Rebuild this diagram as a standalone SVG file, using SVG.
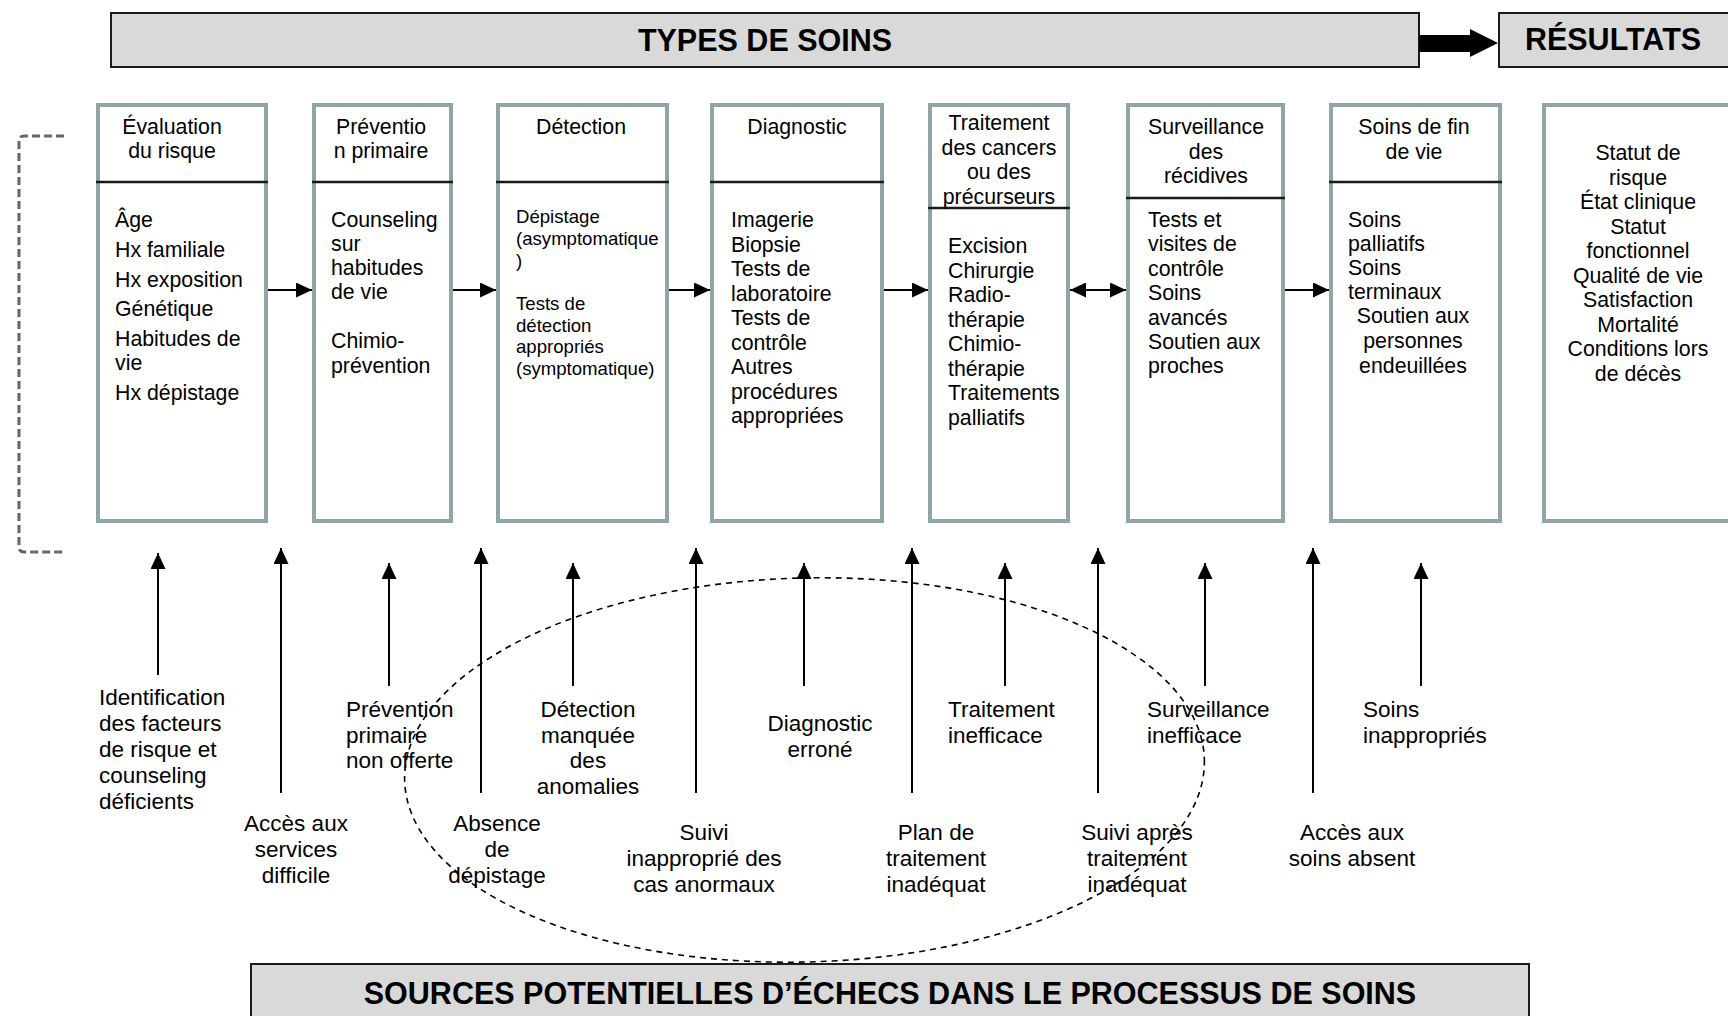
<svg xmlns="http://www.w3.org/2000/svg" width="1728" height="1016" viewBox="0 0 1728 1016">
<style>
text{font-family:"Liberation Sans",Arial,sans-serif;fill:#000}
.t{font-size:21.3px}
.ts{font-size:18.6px}
.tl{font-size:22.5px}
.m{text-anchor:middle}
.title{font-size:30.5px;font-weight:bold;text-anchor:middle}
.box{fill:#fff;stroke:#8fa5a8;stroke-width:4}
.div{stroke:#1a1a1a;stroke-width:2.5}
.banner{fill:#d9d9d9;stroke:#1a1a1a;stroke-width:2}
.con{stroke:#000;stroke-width:2;fill:none}
</style>
<defs>
<marker id="ah" markerUnits="userSpaceOnUse" markerWidth="16" markerHeight="15" refX="16" refY="7.5" orient="auto-start-reverse">
<path d="M0,0 L16,7.5 L0,15 z" fill="#000"/>
</marker>
</defs>

<g id="banner-types">
<rect class="banner" x="111" y="13" width="1308" height="54"/>
<text class="title" x="765" y="51">TYPES DE SOINS</text>
</g>
<g id="banner-resultats">
<rect class="banner" x="1499" y="13" width="260" height="54"/>
<text class="title" x="1613" y="50">RÉSULTATS</text>
</g>
<g id="banner-sources">
<rect class="banner" x="251" y="964" width="1278" height="70"/>
<text class="title" x="890" y="1004">SOURCES POTENTIELLES D’ÉCHECS DANS LE PROCESSUS DE SOINS</text>
</g>

<g id="node-evaluation">
<rect class="box" x="98" y="105" width="168" height="416"/>
<line class="div" x1="96" y1="182" x2="268" y2="182"/>
<text class="t m" x="172" y="134">Évaluation</text>
<text class="t m" x="172" y="158">du risque</text>
<text class="t" x="115" y="227">Âge</text>
<text class="t" x="115" y="257">Hx familiale</text>
<text class="t" x="115" y="287">Hx exposition</text>
<text class="t" x="115" y="316">Génétique</text>
<text class="t" x="115" y="346">Habitudes de</text>
<text class="t" x="115" y="370">vie</text>
<text class="t" x="115" y="400">Hx dépistage</text>
</g>

<g id="node-prevention">
<rect class="box" x="314" y="105" width="137" height="416"/>
<line class="div" x1="312" y1="182" x2="453" y2="182"/>
<text class="t m" x="381" y="134">Préventio</text>
<text class="t m" x="381" y="158">n primaire</text>
<text class="t" x="331" y="227">Counseling</text>
<text class="t" x="331" y="251">sur</text>
<text class="t" x="331" y="275">habitudes</text>
<text class="t" x="331" y="299">de vie</text>
<text class="t" x="331" y="348">Chimio-</text>
<text class="t" x="331" y="373">prévention</text>
</g>

<g id="node-detection">
<rect class="box" x="498" y="105" width="169" height="416"/>
<line class="div" x1="496" y1="182" x2="669" y2="182"/>
<text class="t m" x="581" y="134">Détection</text>
<text class="ts" x="516" y="223">Dépistage</text>
<text class="ts" x="516" y="245">(asymptomatique</text>
<text class="ts" x="516" y="267">)</text>
<text class="ts" x="516" y="310">Tests de</text>
<text class="ts" x="516" y="332">détection</text>
<text class="ts" x="516" y="353">appropriés</text>
<text class="ts" x="516" y="375">(symptomatique)</text>
</g>

<g id="node-diagnostic">
<rect class="box" x="712" y="105" width="170" height="416"/>
<line class="div" x1="710" y1="182" x2="884" y2="182"/>
<text class="t m" x="797" y="134">Diagnostic</text>
<text class="t" x="731" y="227">Imagerie</text>
<text class="t" x="731" y="251.5">Biopsie</text>
<text class="t" x="731" y="276">Tests de</text>
<text class="t" x="731" y="300.5">laboratoire</text>
<text class="t" x="731" y="325">Tests de</text>
<text class="t" x="731" y="349.5">contrôle</text>
<text class="t" x="731" y="374">Autres</text>
<text class="t" x="731" y="398.5">procédures</text>
<text class="t" x="731" y="423">appropriées</text>
</g>

<g id="node-traitement">
<rect class="box" x="930" y="105" width="138" height="416"/>
<line class="div" x1="928" y1="208" x2="1070" y2="208"/>
<text class="t m" x="999" y="130">Traitement</text>
<text class="t m" x="999" y="154.5">des cancers</text>
<text class="t m" x="999" y="179">ou des</text>
<text class="t m" x="999" y="203.5">précurseurs</text>
<text class="t" x="948" y="253">Excision</text>
<text class="t" x="948" y="277.5">Chirurgie</text>
<text class="t" x="948" y="302">Radio-</text>
<text class="t" x="948" y="326.5">thérapie</text>
<text class="t" x="948" y="351">Chimio-</text>
<text class="t" x="948" y="375.5">thérapie</text>
<text class="t" x="948" y="400">Traitements</text>
<text class="t" x="948" y="424.5">palliatifs</text>
</g>

<g id="node-surveillance">
<rect class="box" x="1128" y="105" width="155" height="416"/>
<line class="div" x1="1126" y1="198" x2="1285" y2="198"/>
<text class="t m" x="1206" y="134">Surveillance</text>
<text class="t m" x="1206" y="158.5">des</text>
<text class="t m" x="1206" y="183">récidives</text>
<text class="t" x="1148" y="227">Tests et</text>
<text class="t" x="1148" y="251.4">visites de</text>
<text class="t" x="1148" y="275.8">contrôle</text>
<text class="t" x="1148" y="300.2">Soins</text>
<text class="t" x="1148" y="324.6">avancés</text>
<text class="t" x="1148" y="349">Soutien aux</text>
<text class="t" x="1148" y="373.4">proches</text>
</g>

<g id="node-findevie">
<rect class="box" x="1331" y="105" width="169" height="416"/>
<line class="div" x1="1329" y1="182" x2="1502" y2="182"/>
<text class="t m" x="1414" y="134">Soins de fin</text>
<text class="t m" x="1414" y="158.5">de vie</text>
<text class="t" x="1348" y="227">Soins</text>
<text class="t" x="1348" y="251">palliatifs</text>
<text class="t" x="1348" y="275">Soins</text>
<text class="t" x="1348" y="299">terminaux</text>
<text class="t m" x="1413" y="323">Soutien aux</text>
<text class="t m" x="1413" y="348">personnes</text>
<text class="t m" x="1413" y="373">endeuillées</text>
</g>

<g id="node-resultats">
<rect class="box" x="1544" y="105" width="200" height="416"/>
<text class="t m" x="1638" y="160">Statut de</text>
<text class="t m" x="1638" y="184.5">risque</text>
<text class="t m" x="1638" y="209">État clinique</text>
<text class="t m" x="1638" y="233.5">Statut</text>
<text class="t m" x="1638" y="258">fonctionnel</text>
<text class="t m" x="1638" y="282.5">Qualité de vie</text>
<text class="t m" x="1638" y="307">Satisfaction</text>
<text class="t m" x="1638" y="331.5">Mortalité</text>
<text class="t m" x="1638" y="356">Conditions lors</text>
<text class="t m" x="1638" y="380.5">de décès</text>
</g>

<g id="failure-labels">
<text class="tl" x="99" y="705">Identification</text>
<text class="tl" x="99" y="731">des facteurs</text>
<text class="tl" x="99" y="757">de risque et</text>
<text class="tl" x="99" y="783">counseling</text>
<text class="tl" x="99" y="809">déficients</text>
<text class="tl m" x="296" y="831">Accès aux</text>
<text class="tl m" x="296" y="857">services</text>
<text class="tl m" x="296" y="883">difficile</text>
<text class="tl" x="346" y="717">Prévention</text>
<text class="tl" x="346" y="743">primaire</text>
<text class="tl" x="346" y="768">non offerte</text>
<text class="tl m" x="588" y="717">Détection</text>
<text class="tl m" x="588" y="743">manquée</text>
<text class="tl m" x="588" y="768">des</text>
<text class="tl m" x="588" y="794">anomalies</text>
<text class="tl m" x="497" y="831">Absence</text>
<text class="tl m" x="497" y="857">de</text>
<text class="tl m" x="497" y="883">dépistage</text>
<text class="tl m" x="704" y="840">Suivi</text>
<text class="tl m" x="704" y="866">inapproprié des</text>
<text class="tl m" x="704" y="892">cas anormaux</text>
<text class="tl m" x="820" y="731">Diagnostic</text>
<text class="tl m" x="820" y="757">erroné</text>
<text class="tl" x="948" y="717">Traitement</text>
<text class="tl" x="948" y="743">inefficace</text>
<text class="tl m" x="936" y="840">Plan de</text>
<text class="tl m" x="936" y="866">traitement</text>
<text class="tl m" x="936" y="892">inadéquat</text>
<text class="tl" x="1147" y="717">Surveillance</text>
<text class="tl" x="1147" y="743">inefficace</text>
<text class="tl m" x="1137" y="840">Suivi après</text>
<text class="tl m" x="1137" y="866">traitement</text>
<text class="tl m" x="1137" y="892">inadéquat</text>
<text class="tl" x="1363" y="717">Soins</text>
<text class="tl" x="1363" y="743">inappropriés</text>
<text class="tl m" x="1352" y="840">Accès aux</text>
<text class="tl m" x="1352" y="866">soins absent</text>
</g>

<g id="connectors">
<polygon points="1419,35 1470,35 1470,29 1498,43 1470,57 1470,52 1419,52" fill="#000"/>
<line class="con" x1="268" y1="290" x2="312" y2="290" marker-end="url(#ah)"/>
<line class="con" x1="453" y1="290" x2="496" y2="290" marker-end="url(#ah)"/>
<line class="con" x1="669" y1="290" x2="710" y2="290" marker-end="url(#ah)"/>
<line class="con" x1="884" y1="290" x2="928" y2="290" marker-end="url(#ah)"/>
<line class="con" x1="1070" y1="290" x2="1126" y2="290" marker-start="url(#ah)" marker-end="url(#ah)"/>
<line class="con" x1="1285" y1="290" x2="1329" y2="290" marker-end="url(#ah)"/>
<line class="con" x1="158" y1="675" x2="158" y2="553" marker-end="url(#ah)"/>
<line class="con" x1="281" y1="793" x2="281" y2="548" marker-end="url(#ah)"/>
<line class="con" x1="389" y1="686" x2="389" y2="563" marker-end="url(#ah)"/>
<line class="con" x1="481" y1="793" x2="481" y2="548" marker-end="url(#ah)"/>
<line class="con" x1="573" y1="686" x2="573" y2="563" marker-end="url(#ah)"/>
<line class="con" x1="696" y1="793" x2="696" y2="548" marker-end="url(#ah)"/>
<line class="con" x1="804" y1="686" x2="804" y2="563" marker-end="url(#ah)"/>
<line class="con" x1="912" y1="793" x2="912" y2="548" marker-end="url(#ah)"/>
<line class="con" x1="1005" y1="686" x2="1005" y2="563" marker-end="url(#ah)"/>
<line class="con" x1="1098" y1="793" x2="1098" y2="548" marker-end="url(#ah)"/>
<line class="con" x1="1205" y1="686" x2="1205" y2="563" marker-end="url(#ah)"/>
<line class="con" x1="1313" y1="793" x2="1313" y2="548" marker-end="url(#ah)"/>
<line class="con" x1="1421" y1="686" x2="1421" y2="563" marker-end="url(#ah)"/>
<path d="M64,136 L24,136 Q19,136 19,141 L19,547 Q19,552 24,552 L64,552" fill="none" stroke="#666" stroke-width="3" stroke-dasharray="8 4"/>
<ellipse cx="804.5" cy="770" rx="400" ry="192" transform="rotate(-1.5 804.5 770)" fill="none" stroke="#000" stroke-width="1.6" stroke-dasharray="6 5"/>
</g>
</svg>
